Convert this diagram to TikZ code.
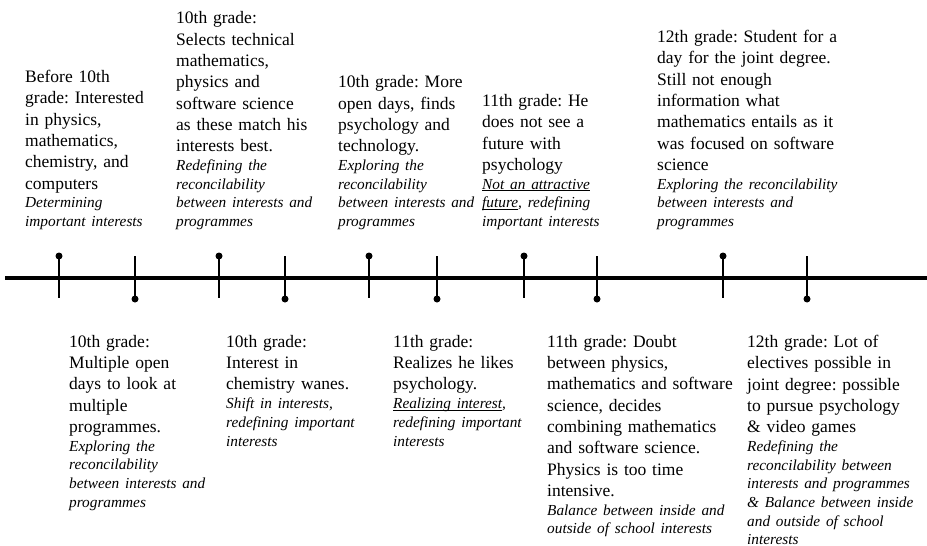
\documentclass[tikz,border=0pt]{standalone}
\usepackage{fontspec}
\setmainfont{Liberation Serif}
\usepackage{tikz}
\usetikzlibrary{positioning}
\frenchspacing
\newcommand\evfont{\fontsize{17.5}{21.3}\selectfont}
\newcommand\evnote[1]{\par{\itshape\fontsize{15.3}{18.7}\selectfont #1\par}}
\newcommand\evul[1]{\underline{\smash{#1}}}
\tikzset{
  evtext/.style={text width=200pt,align=left,inner sep=0pt,font=\evfont},
  upevent/.style={evtext,anchor=south west},
  downevent/.style={evtext,anchor=north west},
  evdot/.style={circle,fill,inner sep=0pt,minimum size=7pt},
  evstem/.style={line width=1.3pt},
  timeline/.style={line width=3.3pt}
}
\begin{document}
\begin{tikzpicture}[x=1pt,y=-1pt]
  \useasboundingbox (0,0) rectangle (927,546);
  % the time axis
  \coordinate (tstart) at (5,278);
  \coordinate (tend) at (927,278);
  \draw[timeline] (tstart)--(tend);
  % stems above the axis
  \node[evdot] (up1) at (59,256) {};
  \node[evdot] (up2) at (219,256) {};
  \node[evdot] (up3) at (369,256) {};
  \node[evdot] (up4) at (524,256) {};
  \node[evdot] (up5) at (723,256) {};
  \coordinate (upend1) at (59,298);
  \coordinate (upend2) at (219,298);
  \coordinate (upend3) at (369,298);
  \coordinate (upend4) at (524,298);
  \coordinate (upend5) at (723,298);
  \draw[evstem] (up1.center)--(upend1);
  \draw[evstem] (up2.center)--(upend2);
  \draw[evstem] (up3.center)--(upend3);
  \draw[evstem] (up4.center)--(upend4);
  \draw[evstem] (up5.center)--(upend5);
  % stems below the axis
  \node[evdot] (dn1) at (135,299) {};
  \node[evdot] (dn2) at (285,299) {};
  \node[evdot] (dn3) at (437,299) {};
  \node[evdot] (dn4) at (597,299) {};
  \node[evdot] (dn5) at (807,299) {};
  \coordinate (dnend1) at (135,256);
  \coordinate (dnend2) at (285,256);
  \coordinate (dnend3) at (437,256);
  \coordinate (dnend4) at (597,256);
  \coordinate (dnend5) at (807,256);
  \draw[evstem] (dn1.center)--(dnend1);
  \draw[evstem] (dn2.center)--(dnend2);
  \draw[evstem] (dn3.center)--(dnend3);
  \draw[evstem] (dn4.center)--(dnend4);
  \draw[evstem] (dn5.center)--(dnend5);
  % events above
  \node[upevent] (before10) at (25,230) {Before 10th\\grade: Interested\\in physics,\\mathematics,\\chemistry, and\\computers
    \evnote{Determining\\important interests}};
  \node[upevent] (selects) at (176,230) {10th grade:\\Selects technical\\mathematics,\\physics and\\software science\\as these match his\\interests best.
    \evnote{Redefining the\\reconcilability\\between interests and\\programmes}};
  \node[upevent] (moredays) at (338,230) {10th grade: More\\open days, finds\\psychology and\\technology.
    \evnote{Exploring the\\reconcilability\\between interests and\\programmes}};
  \node[upevent] (nofuture) at (482,230) {11th grade: He\\does not see a\\future with\\psychology
    \evnote{\evul{Not an attractive}\\\evul{future}, redefining\\important interests}};
  \node[upevent] (studentday) at (657,230) {12th grade: Student for a\\day for the joint degree.\\Still not enough\\information what\\mathematics entails as it\\was focused on software\\science
    \evnote{Exploring the reconcilability\\between interests and\\programmes}};
  % events below
  \node[downevent] (opendays) at (69,335) {10th grade:\\Multiple open\\days to look at\\multiple\\programmes.
    \evnote{Exploring the\\reconcilability\\between interests and\\programmes}};
  \node[downevent] (chemistry) at (226,335) {10th grade:\\Interest in\\chemistry wanes.
    \evnote{Shift in interests,\\redefining important\\interests}};
  \node[downevent] (likespsy) at (393,335) {11th grade:\\Realizes he likes\\psychology.
    \evnote{\evul{Realizing interest},\\redefining important\\interests}};
  \node[downevent] (doubt) at (547,335) {11th grade: Doubt\\between physics,\\mathematics and software\\science, decides\\combining mathematics\\and software science.\\Physics is too time\\intensive.
    \evnote{Balance between inside and\\outside of school interests}};
  \node[downevent] (electives) at (747,335) {12th grade: Lot of\\electives possible in\\joint degree: possible\\to pursue psychology\\\& video games
    \evnote{Redefining the\\reconcilability between\\interests and programmes\\\& Balance between inside\\and outside of school\\interests}};
\end{tikzpicture}
\end{document}
